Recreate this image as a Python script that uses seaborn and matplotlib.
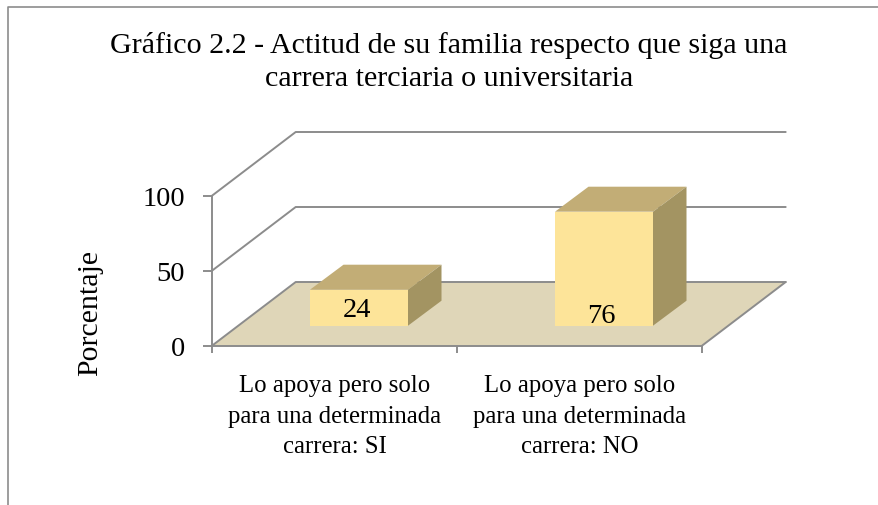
"""
Gráfico 2.2 - barras con aspecto 3D sobre un eje de seaborn.
"""
import matplotlib
matplotlib.use("Agg")
import matplotlib.pyplot as plt
import numpy as np
import seaborn as sns
from matplotlib.lines import Line2D
from matplotlib.patches import Polygon
from matplotlib.transforms import Affine2D, IdentityTransform

# --- datos ---
TITLE = "Gráfico 2.2 - Actitud de su familia respecto que siga una\ncarrera terciaria o universitaria"
CATEGORIES = [
    "Lo apoya pero solo\npara una determinada\ncarrera: SI",
    "Lo apoya pero solo\npara una determinada\ncarrera: NO",
]
VALUES = [24, 76]
Y_TICKS = [0, 50, 100]
Y_LABEL = "Porcentaje"

# --- colores ---
FRONT = "#FDE499"
TOP = "#C2AD76"
SIDE = "#A39462"
FLOOR = "#DFD6B8"
GRID = "#8C8C8C"

sns.set_theme(style="white")
plt.rcParams["font.family"] = ["Liberation Serif", "DejaVu Serif"]

W, H = 879, 506
fig = plt.figure(figsize=(W / 100, H / 100), dpi=100)
ax = fig.add_axes([212 / W, (H - 346.7) / H, 490 / W, 150 / H])

sns.barplot(x=CATEGORIES, y=VALUES, width=0.4, color=FRONT, saturation=1, ax=ax, zorder=5)
ax.set_xlim(-0.5, 1.5)
ax.set_ylim(0, 100)


def to_pixels(xs, ys, dx=0, dy=0):
    # datos -> pixeles de la figura, con desplazamiento de profundidad
    return ax.transData.transform(np.column_stack([xs, ys])) + [dx, dy]


def face(points, color, z):
    ax.add_patch(Polygon(points, closed=True, facecolor=color, edgecolor="none",
                         transform=IdentityTransform(), clip_on=False, zorder=z))


# profundidad del piso y desplazamiento / fondo de las barras
WALL_DX, WALL_DY = 83.7, 63.7
BAR_DX, BAR_DY = 24.5, 20
BOX_DX, BOX_DY = 33.5, 25

bars = list(ax.patches)

# piso
x0, x1 = ax.get_xlim()
floor = to_pixels([x0, x1], [0, 0])
face([floor[0], floor[1], floor[1] + [WALL_DX, WALL_DY], floor[0] + [WALL_DX, WALL_DY]], FLOOR, 1)

# lineas de las paredes
for tick in Y_TICKS:
    a, b = to_pixels([x0, x1], [tick, tick])
    back_a = a + [WALL_DX, WALL_DY]
    back_b = b + [WALL_DX, WALL_DY]
    ax.add_line(Line2D([a[0], back_a[0], back_b[0]], [a[1], back_a[1], back_b[1]], color=GRID, lw=1.4,
                       transform=IdentityTransform(), clip_on=False, zorder=2))
ax.add_line(Line2D([floor[1][0], floor[1][0] + WALL_DX], [floor[1][1], floor[1][1] + WALL_DY], color=GRID, lw=1.4,
                   transform=IdentityTransform(), clip_on=False, zorder=2))

# barras: el frente viene de seaborn, se le agregan techo y costado
bar_tf = ax.transData + Affine2D().translate(BAR_DX, BAR_DY)
for patch in bars:
    left, right = patch.get_x(), patch.get_x() + patch.get_width()
    height = patch.get_height()
    patch.set_transform(bar_tf)
    patch.set_clip_on(False)
    patch.set_edgecolor("none")
    fl, fr = to_pixels([left, right], [height, height], BAR_DX, BAR_DY)
    br = to_pixels([right], [0], BAR_DX, BAR_DY)[0]
    face([fl, fr, fr + [BOX_DX, BOX_DY], fl + [BOX_DX, BOX_DY]], TOP, 4)
    face([fr, br, br + [BOX_DX, BOX_DY], fr + [BOX_DX, BOX_DY]], SIDE, 4)

# etiquetas de valores
LABEL_Y = [10.5, 6.5]
for i, value in enumerate(VALUES):
    ax.text(i - 0.01, LABEL_Y[i], str(value), transform=bar_tf, ha="center", va="center",
            fontsize=20.5, color="black", zorder=6, clip_on=False)

# ejes
sns.despine(ax=ax, top=True, right=True)
for side in ["left", "bottom"]:
    ax.spines[side].set_color(GRID)
    ax.spines[side].set_linewidth(1.4)
    ax.spines[side].set_zorder(3)

ax.set_yticks(Y_TICKS)
ax.set_yticklabels([str(t) for t in Y_TICKS], fontsize=20.5, color="black")
ax.set_xticks([-0.5, 0.5, 1.5], labels=[])
ax.set_xticks([0, 1], labels=CATEGORIES, minor=True)
ax.tick_params(axis="y", left=True, length=6.5, width=1.4, color=GRID, pad=13)
ax.tick_params(axis="x", which="major", bottom=True, length=5, width=1.4, color=GRID)
ax.tick_params(axis="x", which="minor", bottom=False, length=0, pad=20.5, labelsize=17.8, labelcolor="black")
for label in ax.get_xticklabels(minor=True):
    label.set_linespacing(1.5)

ax.set_ylabel(Y_LABEL, fontsize=21.5, color="black")
ax.set_xlabel("")
ax.yaxis.set_label_coords((103 - 212) / 490, 0.228)

# titulo
fig.text(449 / W, (H - 62) / H, TITLE, ha="center", va="center", fontsize=21.6, color="black", linespacing=1.33)

# marco del grafico (solo arriba e izquierda)
fig.add_artist(Line2D([8 / W, 8 / W, 1], [0, (H - 8) / H, (H - 8) / H], color=GRID, lw=1.2,
                      transform=fig.transFigure))

fig.savefig("out.png", dpi=100, facecolor="white")
